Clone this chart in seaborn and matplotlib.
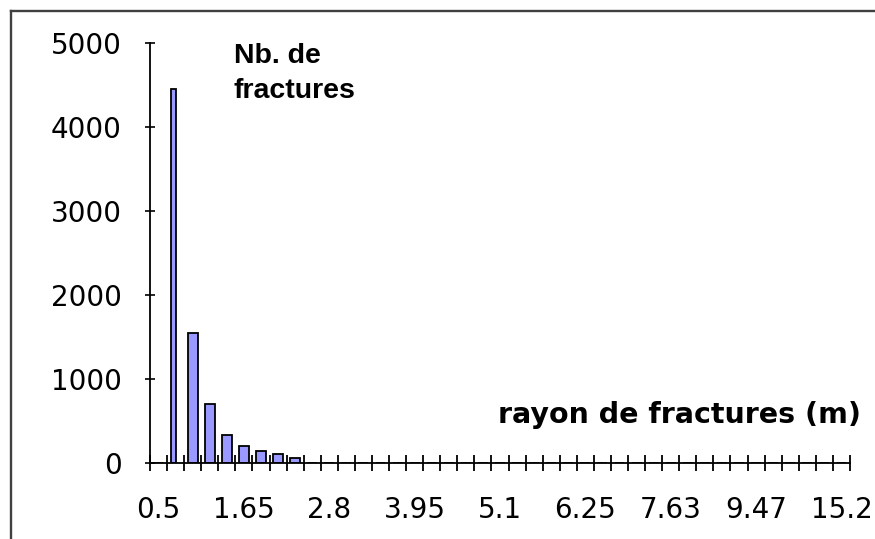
import matplotlib
matplotlib.use("Agg")
import numpy as np
import matplotlib.pyplot as plt
import seaborn as sns
from matplotlib.lines import Line2D

# Fracture-radius bins (41 classes); only every fifth class is labelled
bin_index = list(range(41))
tick_labels = ["0.5", "1.65", "2.8", "3.95", "5.1", "6.25", "7.63", "9.47", "15.2"]

# Number of fractures per radius class
counts = [0, 4450, 1550, 700, 340, 210, 150, 105, 65,
          0, 0, 0, 0, 0, 0, 0, 0, 0, 0, 0,
          0, 0, 0, 0, 0, 0, 0, 0, 0, 0, 0,
          0, 0, 0, 0, 0, 0, 0, 0, 0, 0]

W, H = 875, 539
fig = plt.figure(figsize=(W / 100, H / 100), dpi=100)
fig.patch.set_facecolor("white")

x0, x1 = 150, 850          # plot area, pixels
y_top, y_zero = 42.7, 463.3
ax = fig.add_axes([x0 / W, (H - y_zero) / H, (x1 - x0) / W, (y_zero - y_top) / H])

sns.barplot(x=bin_index, y=counts, order=bin_index, color="#9999FF",
            saturation=1, width=0.58, edgecolor="black", linewidth=1.3,
            ax=ax)
# the first drawn bar is narrower
ax.patches[1].set_width(0.31)

ax.set_xlim(-0.5, len(bin_index) - 0.5)
ax.set_ylim(0, 5000)
ax.set_facecolor("white")
for side in ("top", "right"):
    ax.spines[side].set_visible(False)
for side in ("left", "bottom"):
    ax.spines[side].set_color("black")
    ax.spines[side].set_linewidth(1.3)

ax.set_xlabel("")
ax.set_ylabel("")

# y axis
ax.set_yticks(np.arange(0, 5001, 1000))
ax.tick_params(axis="y", which="major", direction="inout", length=7.5,
               width=1.2, pad=16.5, labelsize=20, colors="black")
for t in ax.get_yticklabels():
    t.set_fontfamily("DejaVu Sans")

# x axis: labels every fifth class, tick marks on every class boundary
ax.set_xticks(bin_index[::5])
ax.set_xticklabels(tick_labels, fontfamily="DejaVu Sans")
ax.set_xticks(np.arange(-0.5, len(bin_index), 1.0), minor=True)
ax.tick_params(axis="x", which="major", length=0, pad=23.5, labelsize=20,
               colors="black")
ax.tick_params(axis="x", which="minor", direction="inout", length=11.5,
               width=1.3, color="black")

# axis titles
fig.text(234 / W, 1 - 43 / H, "Nb. de\nfractures", ha="left", va="top",
         fontfamily="Liberation Sans", fontweight="bold", fontsize=20.5,
         linespacing=1.47, color="black")
fig.text(498 / W, (H - 423) / H, "rayon de fractures (m)", ha="left",
         va="baseline", fontfamily="DejaVu Sans", fontweight="bold",
         fontsize=20.5, color="black")

# chart-area frame
frame_kw = dict(color="#404040", linewidth=1.7, transform=fig.transFigure)
fig.add_artist(Line2D([11 / W, 1.0], [1 - 11 / H, 1 - 11 / H], **frame_kw))
fig.add_artist(Line2D([11 / W, 11 / W], [1 - 11 / H, 0.0], **frame_kw))

fig.savefig("out.png", dpi=100)
